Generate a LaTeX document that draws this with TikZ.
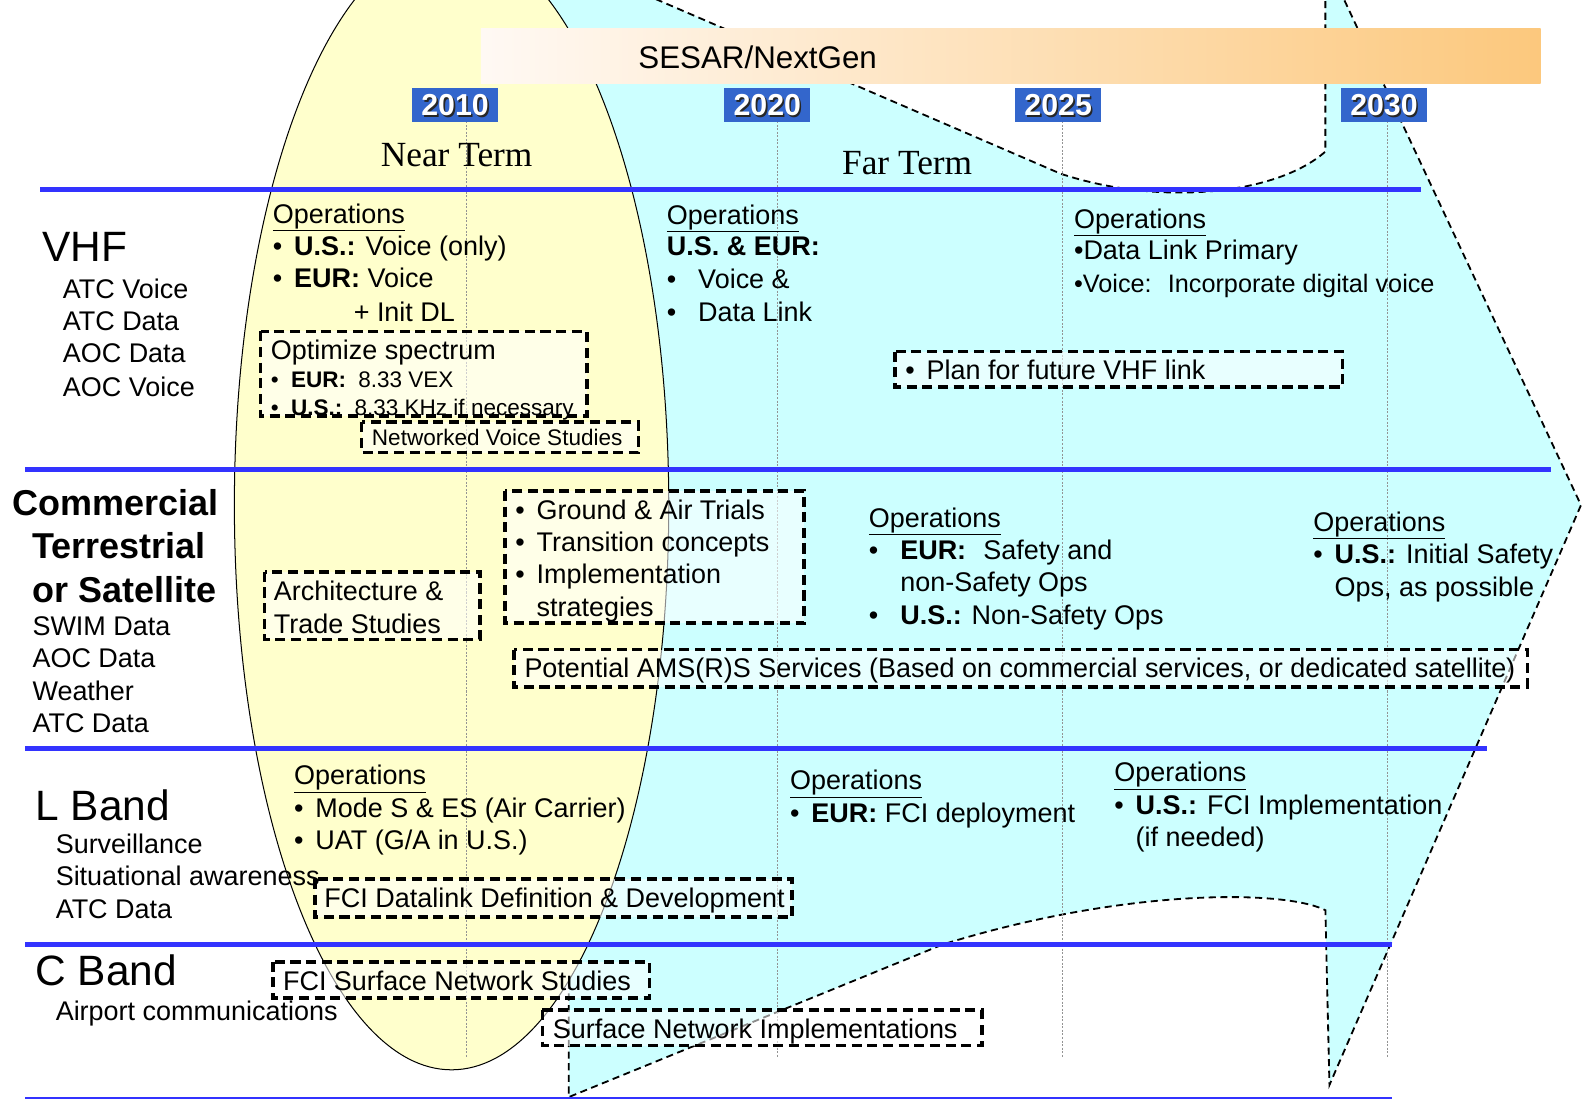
\documentclass[tikz,border=0pt]{standalone}
\usepackage{fontspec}
\setmainfont{Liberation Sans}
\newfontfamily\termfont{Liberation Serif}
\usetikzlibrary{positioning}
\definecolor{bandBlue}{RGB}{51,51,255}
\definecolor{yearBlue}{RGB}{51,102,204}
\definecolor{farCyan}{RGB}{204,255,255}
\definecolor{nearYellow}{RGB}{255,255,204}
\definecolor{bannerLight}{RGB}{255,249,244}
\definecolor{bannerOrange}{RGB}{252,200,125}
\tikzset{
  bandln/.style={line width=5pt, bandBlue},
  yearln/.style={gray!85, line width=0.8pt, dash pattern=on 2pt off 1.5pt},
  zoneln/.style={line width=1.8pt, dash pattern=on 7pt off 4.5pt},
  dashbox/.style={line width=3.6pt, dash pattern=on 10pt off 5.5pt, fill=white, fill opacity=0.55},
  yearbox/.style={fill=yearBlue, minimum width=85pt, minimum height=33pt, inner sep=0pt},
  yeartxt/.style={inner sep=0pt, text=white, font=\fontsize{30}{34}\selectfont\bfseries},
  lbl/.style={anchor=base west, inner sep=0pt, font=\fontsize{26.7}{30}\selectfont},
  sml/.style={lbl, font=\fontsize{22.3}{26}\selectfont},
  band/.style={lbl, font=\fontsize{42}{48}\selectfont},
  bigbold/.style={lbl, font=\fontsize{35.6}{40}\selectfont\bfseries},
}
\newcommand{\ops}{\underline{Operations}}
\newcommand{\bul}[1]{\makebox[#1][l]{\textbullet}}
\newcommand{\yearlbl}[3]{%
  \node[yearbox] (#1) at (#2,104) {};
  \node[yeartxt, text=black!85] (#1sh) at (#2+1.6,105.6) {#3};
  \node[yeartxt] (#1txt) at (#2,104) {#3};
}

\begin{document}
\begin{tikzpicture}[x=1pt, y=-1pt]
  \useasboundingbox (0,0) rectangle (1568,1089);
  \begin{scope}
    \clip (0,0) rectangle (1568,1089);
    % far term zone
    \fill[farCyan] (520,-10) -- (628,-10) -- (1050,172)
      .. controls (1150,205) and (1265,192) .. (1312,150) -- (1312,-10)
      -- (1326,-10) -- (1565,500) -- (1316,1074) -- (1312,901)
      .. controls (1270,880) and (1110,880) .. (933,935)
      -- (563,1086) -- (563,970) -- cycle;
    \draw[zoneln] (628,-10) -- (1050,172)
      .. controls (1150,205) and (1265,192) .. (1312,150) -- (1312,-10);
    \draw[zoneln] (1326,-10) -- (1565,500) -- (1316,1074) -- (1312,901)
      .. controls (1270,880) and (1110,880) .. (933,935)
      -- (563,1086) -- (563,970);
    % near term zone
    \draw[fill=nearYellow, line width=1pt] (447,500) ellipse [x radius=215, y radius=559];
  \end{scope}

  % banner
  \shade[left color=bannerLight, right color=bannerOrange] (476,28) rectangle (1525,83);
  \node[font=\fontsize{31}{36}\selectfont] (sesar) at (750,57) {SESAR/NextGen};

  % year grid
  \foreach \gx in {462,770,1052,1373}
    \draw[yearln] (\gx,120) -- (\gx,1046);
  \yearlbl{y2010}{450.5}{2010}
  \yearlbl{y2020}{759.5}{2020}
  \yearlbl{y2025}{1047.5}{2025}
  \yearlbl{y2030}{1370}{2030}
  \node[font=\termfont\fontsize{35}{40}\selectfont] (near) at (452,154) {Near Term};
  \node[font=\termfont\fontsize{35}{40}\selectfont] (far) at (898,161) {Far Term};

  % band separators
  \draw[bandln] (40,188) -- (1407,188);
  \draw[bandln] (25,465) -- (1535,465);
  \draw[bandln] (25,741) -- (1472,741);
  \draw[bandln] (25,935) -- (1378,935);
  \draw[bandBlue, line width=1.2pt] (25,1087) -- (1378,1087);

  % dashed boxes
  \draw[dashbox] (258,328) rectangle (581,412);
  \draw[dashbox] (358,418) rectangle (632,448);
  \draw[dashbox] (886,348) rectangle (1329,383);
  \draw[dashbox] (262,566) rectangle (475,633);
  \draw[dashbox] (500,486) rectangle (796,617);
  \draw[dashbox] (509,643) rectangle (1512,680);
  \draw[dashbox] (312,870) rectangle (784,908);
  \draw[dashbox] (270,952) rectangle (643,988);
  \draw[dashbox] (537,1000) rectangle (972,1035);

  % VHF
  \node[band] (vhf) at (42,259) {VHF};
  \node[lbl] (vhfA) at (62,295) {ATC Voice};
  \node[lbl] (vhfB) at (62,327) {ATC Data};
  \node[lbl] (vhfC) at (62,359) {AOC Data};
  \node[lbl] (vhfD) at (62,392) {AOC Voice};
  \node[lbl] (v1a) at (270,221) {\ops};
  \node[lbl] (v1b) at (270,253) {\bul{21pt}\textbf{U.S.:} Voice (only)};
  \node[lbl] (v1c) at (270,285) {\bul{21pt}\textbf{EUR:} Voice};
  \node[lbl] (v1d) at (350,318) {+ Init DL};
  \node[lbl] (v1e) at (268,356) {Optimize spectrum};
  \node[sml] (v1f) at (268,384) {\bul{20pt}\textbf{EUR:}\hspace{12pt}8.33 VEX};
  \node[sml] (v1g) at (268,411) {\bul{20pt}\textbf{U.S.:}\hspace{12pt}8.33 KHz if necessary};
  \node[sml] (v1h) at (368,441) {Networked Voice Studies};
  \node[lbl] (v2a) at (660,222) {\ops};
  \node[lbl] (v2b) at (660,253) {\textbf{U.S. \& EUR:}};
  \node[lbl] (v2c) at (660,286) {\bul{31pt}Voice \&};
  \node[lbl] (v2d) at (660,318) {\bul{31pt}Data Link};
  \node[lbl] (v3a) at (1063,226) {\ops};
  \node[lbl] (v3b) at (1063,257) {\textbullet Data Link Primary};
  \node[lbl, font=\fontsize{25}{28}\selectfont] (v3c) at (1063,290) {\textbullet Voice:\hspace{16pt}Incorporate digital voice};
  \node[lbl] (v3d) at (896,376) {\bul{21pt}Plan for future VHF link};

  % commercial terrestrial or satellite
  \node[bigbold] (ctsA) at (12,510) {Commercial};
  \node[bigbold] (ctsB) at (32,553) {Terrestrial};
  \node[bigbold] (ctsC) at (32,596) {or Satellite};
  \node[lbl] (ctsD) at (32,629) {SWIM Data};
  \node[lbl] (ctsE) at (32,661) {AOC Data};
  \node[lbl] (ctsF) at (32,693) {Weather};
  \node[lbl] (ctsG) at (32,725) {ATC Data};
  \node[lbl] (c1a) at (271,594) {Architecture \&};
  \node[lbl] (c1b) at (271,627) {Trade Studies};
  \node[lbl] (c2a) at (510,514) {\bul{21pt}Ground \& Air Trials};
  \node[lbl] (c2b) at (510,546) {\bul{21pt}Transition concepts};
  \node[lbl] (c2c) at (510,578) {\bul{21pt}Implementation};
  \node[lbl] (c2d) at (531,610) {strategies};
  \node[lbl] (c3a) at (860,522) {\ops};
  \node[lbl] (c3b) at (860,554) {\bul{31pt}\textbf{EUR:}\hspace{17pt}Safety and};
  \node[lbl] (c3c) at (891,586) {non-Safety Ops};
  \node[lbl] (c3d) at (860,618) {\bul{31pt}\textbf{U.S.:} Non-Safety Ops};
  \node[lbl] (c4a) at (1300,526) {\ops};
  \node[lbl] (c4b) at (1300,558) {\bul{21pt}\textbf{U.S.:} Initial Safety};
  \node[lbl] (c4c) at (1321,590) {Ops, as possible};
  \node[lbl] (c5) at (519,671) {Potential AMS(R)S Services (Based on commercial services, or dedicated satellite)};

  % L band
  \node[band] (lband) at (35,812) {L Band};
  \node[lbl] (lbA) at (55,845) {Surveillance};
  \node[lbl] (lbB) at (55,877) {Situational awareness};
  \node[lbl] (lbC) at (55,909) {ATC Data};
  \node[lbl] (l1a) at (291,777) {\ops};
  \node[lbl] (l1b) at (291,809) {\bul{21pt}Mode S \& ES (Air Carrier)};
  \node[lbl] (l1c) at (291,841) {\bul{21pt}UAT (G/A in U.S.)};
  \node[lbl] (l1d) at (321,898) {FCI Datalink Definition \& Development};
  \node[lbl] (l2a) at (782,782) {\ops};
  \node[lbl] (l2b) at (782,814) {\bul{21pt}\textbf{EUR:} FCI deployment};
  \node[lbl] (l3a) at (1103,774) {\ops};
  \node[lbl] (l3b) at (1103,806) {\bul{21pt}\textbf{U.S.:} FCI Implementation};
  \node[lbl] (l3c) at (1124,838) {(if needed)};

  % C band
  \node[band] (cband) at (35,976) {C Band};
  \node[lbl] (cbA) at (55,1010) {Airport communications};
  \node[lbl] (cb1) at (280,980) {FCI Surface Network Studies};
  \node[lbl] (cb2) at (547,1028) {Surface Network Implementations};
\end{tikzpicture}
\end{document}
